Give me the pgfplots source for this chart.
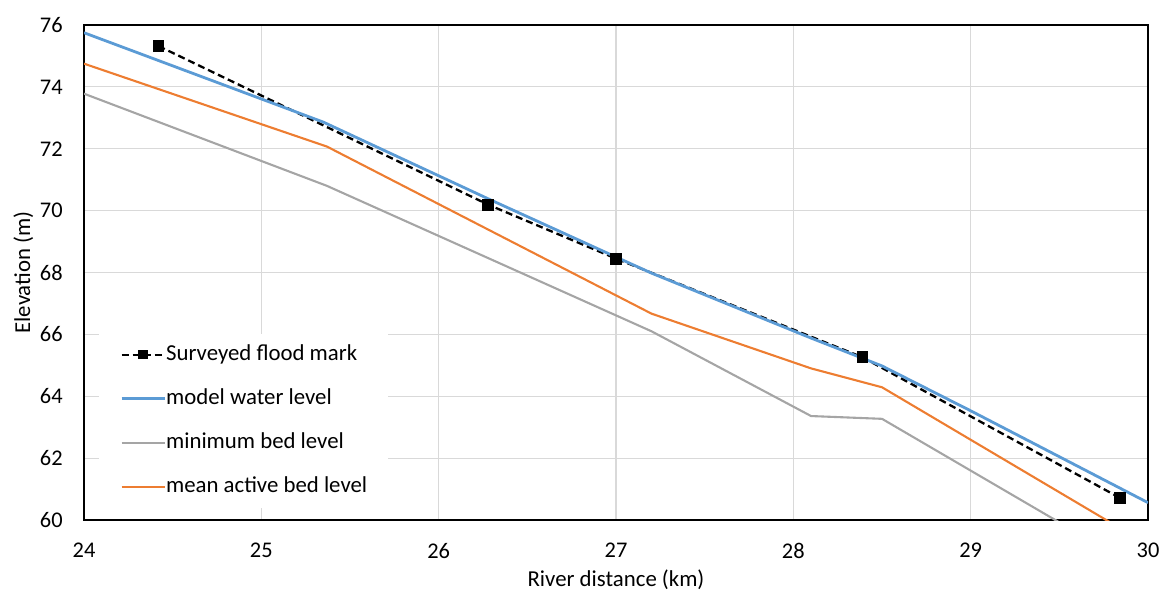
\documentclass[border=0pt]{standalone}
\usepackage{pgfplots}
\pgfplotsset{compat=1.18}
\usepackage{fontspec}
\setmainfont{Carlito}
\definecolor{mblue}{HTML}{5B9BD5}
\definecolor{morange}{HTML}{ED7D31}
\definecolor{mgrey}{HTML}{A5A5A5}
\definecolor{mgrid}{HTML}{D9D9D9}
\begin{document}
\begin{tikzpicture}
\begin{axis}[
  name=ax,
  at={(0,0)}, anchor=south west,
  scale only axis, width=532pt, height=247.5pt,
  xmin=24, xmax=30, ymin=60, ymax=76,
  xtick={24,25,...,30}, ytick={60,62,...,76},
  /pgf/number format/assume math mode=true,
  major tick length=0pt,
  grid=major,
  major grid style={mgrid, line width=0.6pt},
  axis line style={black, line width=0.8pt},
  tick label style={font=\fontsize{11.2}{13}\selectfont, inner sep=0pt},
  yticklabel style={xshift=-10.5pt},
  xticklabel style={anchor=north, yshift=-11.5pt},
  xlabel={River distance (km)}, ylabel={Elevation (m)},
  label style={font=\fontsize{11.4}{13}\selectfont},
  x label style={at={([yshift=-33pt]axis description cs:0.5,0)}, anchor=base},
  y label style={at={([xshift=-27pt]axis description cs:0,0.5)}, anchor=base},
  legend cell align=left,
  legend style={at={(axis description cs:0.014,0.024)}, anchor=south west,
    draw=none, fill=white, font=\fontsize{11.4}{13}\selectfont,
    nodes={inner xsep=0pt, inner ysep=0pt, text height=8.5pt, text depth=2.5pt},
    inner xsep=10.5pt, inner ysep=5pt, row sep=11pt,
    /tikz/every even column/.append style={column sep=2pt}},
  legend image code/.code={\draw[#1] (0pt,0pt) -- (21.5pt,0pt); \draw[#1, only marks, mark repeat=1, mark size=1.8pt] plot coordinates {(10.75pt,0pt)};},
]
\addplot[black, line width=1.15pt, dash pattern=on 3.5pt off 2pt, mark=square*, mark size=2.4pt, mark options={solid}]
  coordinates {(24.42,75.32) (26.28,70.19) (27.0,68.45) (28.39,65.26) (29.84,60.72)};
\addlegendentry{Surveyed flood mark}
\addplot[mblue, line width=1.4pt]
  coordinates {(24,75.75) (25.35,72.86) (26.28,70.38) (27.0,68.5) (27.2,67.98) (28.1,65.88) (28.5,64.98) (29,63.53) (30,60.56)};
\addlegendentry{model water level}
\addplot[mgrey, line width=1.05pt]
  coordinates {(24,73.78) (25.37,70.8) (27.2,66.1) (28.1,63.36) (28.5,63.27) (30,58.25)};
\addlegendentry{minimum bed level}
\addplot[morange, line width=1.05pt]
  coordinates {(24,74.75) (25.37,72.07) (27.2,66.67) (28.1,64.9) (28.5,64.29) (30,59.2)};
\addlegendentry{mean active bed level}
\end{axis}
\pgfresetboundingbox
\path ([shift={(-42pt,-36pt)}]ax.south west) rectangle ([shift={(7.5pt,12.5pt)}]ax.north east);
\end{tikzpicture}
\end{document}
